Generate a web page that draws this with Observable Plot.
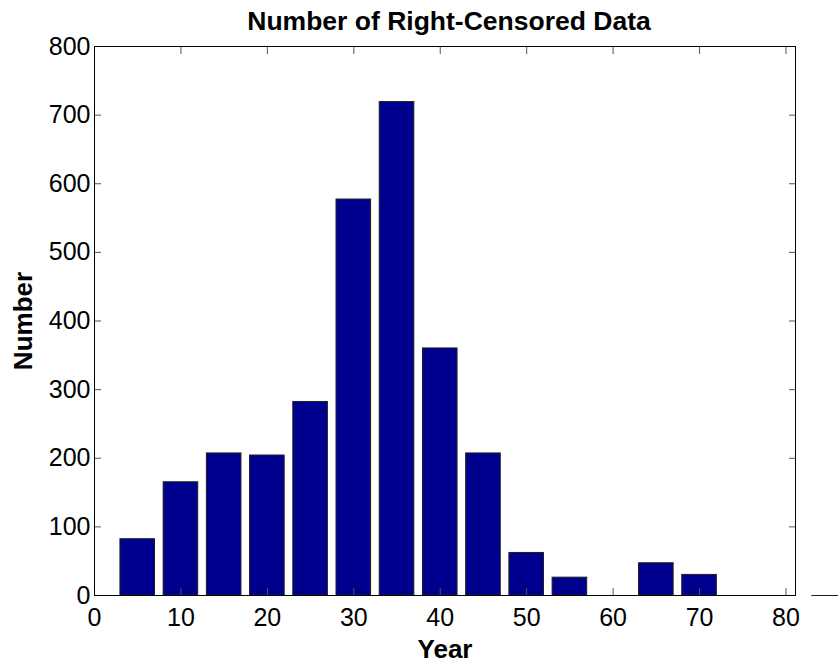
<!DOCTYPE html>
<html><head><meta charset="utf-8">
<script src="https://cdn.jsdelivr.net/npm/d3@7"></script>
<script src="https://cdn.jsdelivr.net/npm/@observablehq/plot@0.6"></script>
<style>
body{margin:0;background:#fff;font-family:"Liberation Sans",Arial,sans-serif;}
#wrap{width:838px;height:665px;position:relative;overflow:hidden;background:#fff;}
#title{position:absolute;left:449px;top:6px;transform:translateX(-50%);font-weight:bold;font-size:26.5px;white-space:nowrap;line-height:30px;color:#000;}
#chart{position:absolute;left:0;top:40px;}
</style></head><body>
<div id="wrap"><div id="title">Number of Right-Censored Data</div><div id="chart"></div></div>
<script>
const years = [5, 10, 15, 20, 25, 30, 35, 40, 45, 50, 55, 60, 65, 70, 75, 80, 85];
const counts = [82, 165, 207, 204, 282, 577, 719, 360, 207, 62, 26, 0, 47, 30, 0, 0, 0];
const xTicks = [0, 10, 20, 30, 40, 50, 60, 70, 80];
const yTicks = [0, 100, 200, 300, 400, 500, 600, 700, 800];
const xLimit = [0, 81.1];
const yLimit = [0, 800];
const xLabel = "Year";
const yLabel = "Number";

const data = years.map((y, i) => ({year: y, count: counts[i]}));
const inside = data.filter(d => d.year <= xLimit[1]);
const outside = data.filter(d => d.year > xLimit[1]);
const half = 2;
const barFill = "#00008F";
const barEdge = "#1e1e1e";
const tickColor = "#555";

const chart = Plot.plot({
  width: 838, height: 625,
  marginLeft: 94, marginRight: 43, marginTop: 6, marginBottom: 70,
  style: {fontFamily: "'Liberation Sans', Arial, sans-serif", fontSize: "25px", color: "#000", background: "white", overflow: "visible"},
  x: {domain: xLimit},
  y: {domain: yLimit},
  marks: [
    Plot.rectY(inside, {x1: d => d.year - half, x2: d => d.year + half, y: "count", fill: barFill, stroke: barEdge, strokeWidth: 1, clip: "frame"}),
    Plot.rectY(outside, {x1: d => d.year - half, x2: d => d.year + half, y: "count", fill: barFill, stroke: barEdge, strokeWidth: 1}),
    Plot.ruleY(outside, {x1: d => d.year - half, x2: d => d.year + half, y: "count", stroke: barEdge, strokeWidth: 1}),
    Plot.axisX(xTicks, {anchor: "bottom", tickSize: 0, tickPadding: 13, label: null}),
    Plot.axisX(xTicks, {anchor: "bottom", tickSize: -7, tickFormat: () => "", stroke: tickColor, label: null}),
    Plot.axisX(xTicks, {anchor: "top", tickSize: -7, tickFormat: () => "", stroke: tickColor, label: null}),
    Plot.axisY(yTicks, {anchor: "left", tickSize: 0, tickPadding: 4, label: null}),
    Plot.axisY(yTicks, {anchor: "left", tickSize: -7, tickFormat: () => "", stroke: tickColor, label: null}),
    Plot.axisY(yTicks, {anchor: "right", tickSize: -7, tickFormat: () => "", stroke: tickColor, label: null}),
    Plot.frame({stroke: "#000", strokeWidth: 1}),
    Plot.text([xLabel], {frameAnchor: "bottom", dy: 54, lineAnchor: "middle", fontWeight: "bold", fontSize: 26}),
    Plot.text([yLabel], {frameAnchor: "left", dx: -71, rotate: -90, lineAnchor: "middle", textAnchor: "middle", fontWeight: "bold", fontSize: 26})
  ]
});
document.getElementById("chart").appendChild(chart);
</script>
</body></html>
